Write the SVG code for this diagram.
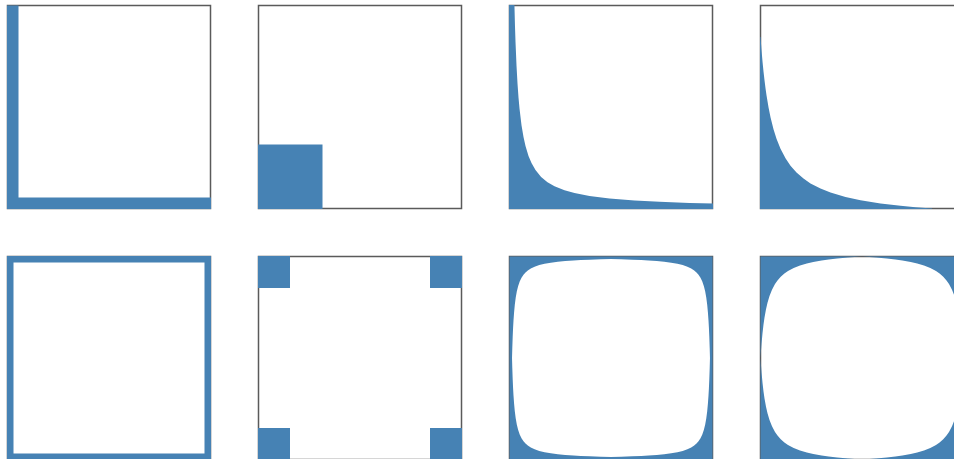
<svg xmlns="http://www.w3.org/2000/svg" width="954" height="459" viewBox="0 0 954 459">
<style>
.frame{fill:#ffffff;stroke:#5a5a5a;stroke-width:1.5}
.blue{fill:#4682b4;stroke:none}
</style>
<defs>
<path id="c7" d="M0,0 L0,101.5 L2.52,101.5 L2.8,91.4 L3.2,80 L3.6,71.1 L4,64 L4.6,55.7 L5.3,48.3 L6.2,41.3 L7.3,35.1 L8.6,29.8 L10.2,25.1 L12,21.3 L14,18.3 L16,16 L18.3,14 L21.3,12 L25.1,10.2 L29.8,8.6 L35.1,7.3 L41.3,6.2 L48.3,5.3 L55.7,4.6 L64,4 L71.1,3.6 L80,3.2 L91.4,2.8 L101.5,2.52 L101.5,0 Z"/>
<path id="c8" d="M0,0 L0,101.5 L0.5,94 L1,87.5 L2,76.7 L3,68.1 L4,61.1 L5.5,52.8 L7,46.3 L9,39.5 L11.5,33.2 L14.5,27.5 L17,23.9 L20.24,20.24 L23.9,17 L27.5,14.5 L33.2,11.5 L39.5,9 L46.3,7 L52.8,5.5 L61.1,4 L68.1,3 L76.7,2 L87.5,1 L94,0.5 L101.5,0 Z"/>
<rect id="sq6" width="32" height="32"/>
</defs>

<g id="square1" transform="translate(7.5,5.5)">
<rect class="frame" width="203" height="203"/>
<rect class="blue" x="-0.5" y="0" width="11.5" height="203.5"/>
<rect class="blue" x="-0.5" y="192" width="204" height="11.5"/>
</g>

<g id="square2" transform="translate(258.5,5.5)">
<rect class="frame" width="203" height="203"/>
<rect class="blue" x="-0.5" y="139" width="64.5" height="64.5"/>
</g>

<g id="square3" transform="translate(509.5,5.5)">
<rect class="frame" width="203" height="203"/>
<path class="blue" d="M-0.5,-0.5 L4.93,-0.5 L5.5,21.2 L6,36.3 L7,60.1 L8,78 L9,91.9 L10,103 L12,119.7 L14,131.6 L16,140.5 L19,150.4 L22,157.5 L26,164.5 L31.6,171.4 L38,176.7 L45,180.8 L55,184.8 L65,187.6 L80,190.5 L100,193 L125,195 L150,196.3 L180,197.4 L203.5,198.1 L203.5,203.5 L-0.5,203.5 Z"/>
</g>

<g id="square4" transform="translate(760.5,5.5)">
<rect class="frame" width="203" height="203"/>
<path class="blue" d="M-0.5,31.4 L0,31.4 L1,44.6 L2,56 L3,66 L4,74.8 L5,82.7 L6,89.7 L8,101.7 L10,111.7 L13,123.7 L16,133.2 L20,143.3 L25,152.8 L30,160.2 L36,167 L43,173.1 L50,177.9 L60,183.1 L70,187.1 L85,191.5 L100,194.8 L120,197.95 L140,200.31 L155,201.71 L171.6,203 L171.6,203.5 L-0.5,203.5 Z"/>
</g>

<g id="square5" transform="translate(7.5,256.5)">
<rect class="frame" width="203" height="203"/>
<path class="blue" fill-rule="evenodd" d="M-0.5,-0.5 H203.5 V203.5 H-0.5 Z M6,6 V197 H197 V6 Z"/>
</g>

<g id="square6" transform="translate(258.5,256.5)">
<rect class="frame" width="203" height="203"/>
<use href="#sq6" class="blue" x="-0.5" y="-0.5"/>
<use href="#sq6" class="blue" x="171.5" y="-0.5"/>
<use href="#sq6" class="blue" x="-0.5" y="171.5"/>
<use href="#sq6" class="blue" x="171.5" y="171.5"/>
</g>

<g id="square7" transform="translate(509.5,256.5)">
<rect class="frame" width="203" height="203"/>
<use href="#c7" class="blue"/>
<use href="#c7" class="blue" transform="translate(203,0) scale(-1,1)"/>
<use href="#c7" class="blue" transform="translate(0,203) scale(1,-1)"/>
<use href="#c7" class="blue" transform="translate(203,203) scale(-1,-1)"/>
</g>

<g id="square8" transform="translate(760.5,256.5)">
<rect class="frame" width="203" height="203"/>
<use href="#c8" class="blue"/>
<use href="#c8" class="blue" transform="translate(203,0) scale(-1,1)"/>
<use href="#c8" class="blue" transform="translate(0,203) scale(1,-1)"/>
<use href="#c8" class="blue" transform="translate(203,203) scale(-1,-1)"/>
</g>
</svg>
